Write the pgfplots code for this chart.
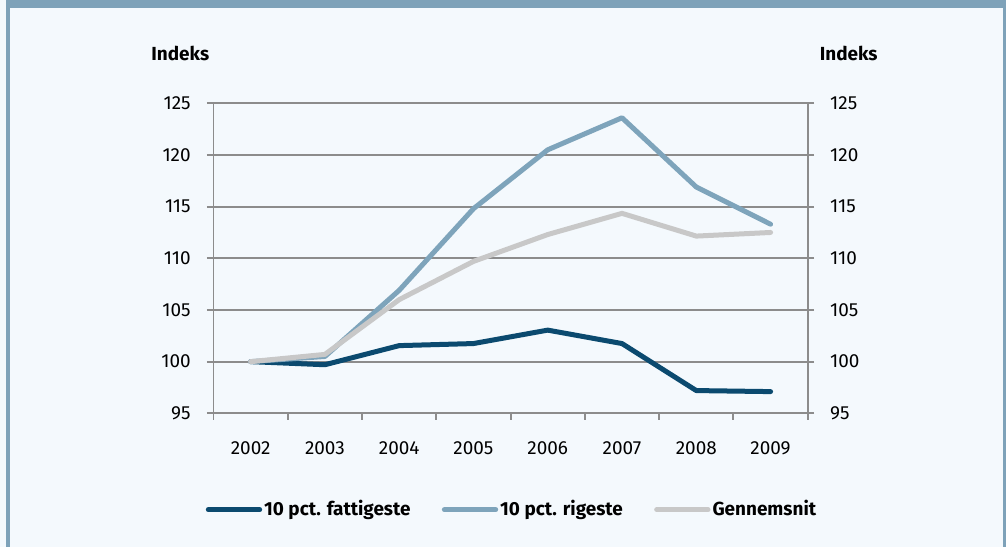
\documentclass[border=0pt]{standalone}
\usepackage{pgfplots}
\pgfplotsset{compat=1.18}
\usetikzlibrary{backgrounds}
\usepackage{fontspec}
\setmainfont{Fira Sans}
\definecolor{bg}{HTML}{F4F9FD}
\definecolor{framec}{HTML}{7EA2B9}
\definecolor{navy}{HTML}{0B4A6F}
\definecolor{rich}{HTML}{7EA4BB}
\definecolor{avg}{HTML}{C8C8C8}
\definecolor{gridc}{HTML}{8C8C8C}
\pgfplotstableread{
x fat rich avg
1 100 100 100
2 99.7 100.5 100.7
3 101.55 106.9 106.0
4 101.75 114.8 109.7
5 103.05 120.5 112.3
6 101.75 123.6 114.35
7 97.2 116.9 112.15
8 97.1 113.3 112.5
}\datatable
\begin{document}
\fontsize{14.2}{17}\selectfont
\begin{tikzpicture}
\begin{axis}[
  name=ax,
  scale only axis, width=445.65pt, height=232.5pt,
  xmin=0.5, xmax=8.5, ymin=95, ymax=125,
  clip=false,
  xtick={0.5,1.5,...,8.5},
  x tick label as interval,
  xticklabels={2002,2003,2004,2005,2006,2007,2008,2009},
  ytick={95,100,...,125},
  ymajorgrids,
  grid style={gridc, line width=1.4pt},
  axis line style={gridc, line width=1.4pt},
  axis lines=box,
  tick align=outside,
  major tick length=4.9pt,
  tick style={gridc, line width=1.4pt},
  xtick pos=bottom, ytick pos=both,
  yticklabel pos=left,
  every tick label/.append style={font=\fontsize{14.2}{17}\selectfont},
  /pgf/number format/assume math mode=true,
  yticklabel shift=7.3pt,
  xticklabel shift=11.5pt,
  legend columns=3,
  legend style={draw=none, fill=none, at={(0.5024,-0.311)}, anchor=center,
    font=\fontsize{14.2}{17}\selectfont\bfseries,
    nodes={inner sep=1.5pt},
    /tikz/every even column/.append style={column sep=22pt}},
  legend cell align=left,
  legend image code/.code={\draw[#1, line width=3.75pt, line cap=round] (0pt,0pt) -- (38.5pt,0pt);},
]
\addplot[navy, line width=3.75pt, line cap=round, line join=round] table[x=x,y=fat] {\datatable};
\addlegendentry{10 pct. fattigeste}
\addplot[rich, line width=3.75pt, line cap=round, line join=round] table[x=x,y=rich] {\datatable};
\addlegendentry{10 pct. rigeste}
\addplot[avg, line width=3.75pt, line cap=round, line join=round] table[x=x,y=avg] {\datatable};
\addlegendentry{Gennemsnit}
\coordinate (A) at (rel axis cs:0,0);
\node[anchor=west, inner sep=0pt, xshift=16.7pt] at (axis cs:8.5,95) {95};
\node[anchor=west, inner sep=0pt, xshift=16.7pt] at (axis cs:8.5,100) {100};
\node[anchor=west, inner sep=0pt, xshift=16.7pt] at (axis cs:8.5,105) {105};
\node[anchor=west, inner sep=0pt, xshift=16.7pt] at (axis cs:8.5,110) {110};
\node[anchor=west, inner sep=0pt, xshift=16.7pt] at (axis cs:8.5,115) {115};
\node[anchor=west, inner sep=0pt, xshift=16.7pt] at (axis cs:8.5,120) {120};
\node[anchor=west, inner sep=0pt, xshift=16.7pt] at (axis cs:8.5,125) {125};
\end{axis}
\begin{scope}[shift={(A)}, x=0.75pt, y=0.75pt]
\begin{scope}[on background layer]
\fill[bg] (-213.5,-133.7) rectangle (792.5,413.3);
\fill[framec] (-207.5,405.3) rectangle (792.5,413.3);
\fill[framec] (-207.5,-133.7) rectangle (-203.5,413.3);
\fill[framec] (789.5,-133.7) rectangle (792.5,413.3);
\end{scope}
\node[font=\bfseries] at (-33.2,359.6) {Indeks};
\node[font=\bfseries] at (635.2,359.6) {Indeks};
\pgfresetboundingbox
\useasboundingbox (-213.5,-133.7) rectangle (792.5,413.3);
\end{scope}
\end{tikzpicture}
\end{document}
